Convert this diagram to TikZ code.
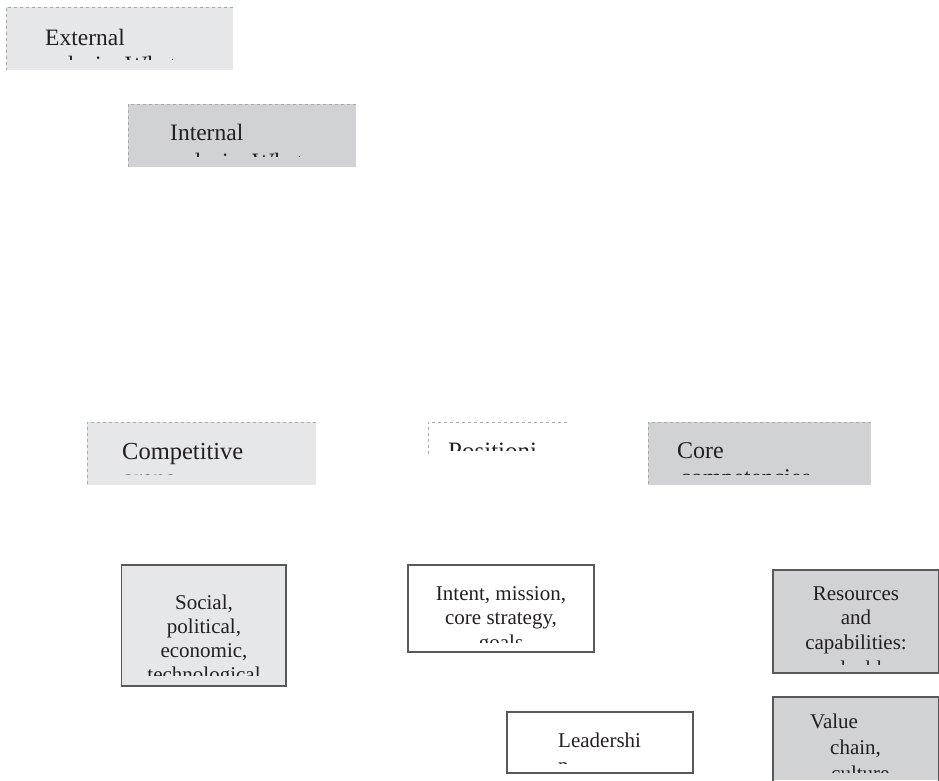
\documentclass[tikz,border=0pt]{standalone}
\usepackage{fontspec}
\setmainfont{Liberation Serif}
\definecolor{lightfill}{HTML}{E6E7E8}
\definecolor{darkfill}{HTML}{D1D2D4}
\definecolor{edgecol}{HTML}{58595B}
\definecolor{dashcol}{HTML}{A7A9AC}
\definecolor{inkcol}{HTML}{231F20}
\tikzset{
  lightbg/.style={fill=lightfill},
  darkbg/.style={fill=darkfill},
  dashedge/.style={draw=dashcol, line width=0.9pt, dash pattern=on 3pt off 3pt},
  solidedge/.style={draw=edgecol, line width=1.1pt},
  headtext/.style={inner sep=0pt, anchor=base west, text=inkcol, font=\fontsize{23.5}{24}\selectfont},
  bodytext/.style={inner sep=0pt, anchor=base, text=inkcol, font=\fontsize{21}{24}\selectfont},
  bodytextl/.style={inner sep=0pt, anchor=base west, text=inkcol, font=\fontsize{21}{24}\selectfont},
}
\begin{document}
\begin{tikzpicture}[x=1pt,y=-1pt]
\useasboundingbox (0,0) rectangle (939,780);

% External
\fill[lightbg] (6,7) rectangle (233,70);
\begin{scope}
\clip (6,7) rectangle (233,59);
\node[headtext] (ext1) at (45,45) {External};
\node[headtext] (ext2) at (35,72.5) {analysis: What};
\end{scope}
\draw[dashedge] (233,7) -- (6,7) -- (6,70);

% Internal
\fill[darkbg] (128,104) rectangle (356,167);
\begin{scope}
\clip (128,104) rectangle (356,156);
\node[headtext] (int1) at (170,140) {Internal};
\node[headtext] (int2) at (162,169) {analysis: What};
\end{scope}
\draw[dashedge] (356,104) -- (128,104) -- (128,167);

% Competitive arena
\fill[lightbg] (87,422) rectangle (316,485);
\begin{scope}
\clip (87,422) rectangle (316,474);
\node[headtext, font=\fontsize{24.5}{24}\selectfont] (comp1) at (122,459.5) {Competitive};
\node[headtext, font=\fontsize{24.5}{24}\selectfont] (comp2) at (123,486.5) {arena};
\end{scope}
\draw[dashedge] (316,422) -- (87,422) -- (87,485);

% Positioning
\begin{scope}
\clip (428,422) rectangle (567,450);
\node[headtext, font=\fontsize{25}{24}\selectfont] (pos1) at (448,459) {Positioni};
\node[headtext, font=\fontsize{25}{24}\selectfont] (pos2) at (448,483) {ng};
\end{scope}
\draw[dashedge] (567,422) -- (428,422) -- (428,457);

% Core competencies
\fill[darkbg] (648,422) rectangle (871,485);
\begin{scope}
\clip (648,422) rectangle (871,474);
\node[headtext, font=\fontsize{24}{24}\selectfont] (core1) at (677,458.5) {Core};
\node[headtext, font=\fontsize{24}{24}\selectfont] (core2) at (680,485.5) {competencies};
\end{scope}
\draw[dashedge] (871,422) -- (648,422) -- (648,485);

% Social, political ...
\fill[lightbg] (121.5,565) rectangle (286,686);
\begin{scope}
\clip (121.5,565) rectangle (286,675);
\node[bodytext] (soc1) at (204,609) {Social,};
\node[bodytext] (soc2) at (204,633) {political,};
\node[bodytext] (soc3) at (204,657) {economic,};
\node[bodytext] (soc4) at (204,681) {technological};
\end{scope}
\draw[solidedge] (121.5,565) rectangle (286,686);

% Intent, mission ...
\begin{scope}
\clip (408,565) rectangle (594,642);
\node[bodytext] (int3) at (501,600) {Intent, mission,};
\node[bodytext] (int4) at (501,624) {core strategy,};
\node[bodytext] (int5) at (501,649) {goals};
\end{scope}
\draw[solidedge] (408,565) rectangle (594,652);

% Resources and capabilities
\fill[darkbg] (773,570) rectangle (939,673);
\begin{scope}
\clip (773,570) rectangle (939,664);
\node[bodytext] (res1) at (856,600) {Resources};
\node[bodytext] (res2) at (856,624.5) {and};
\node[bodytext] (res3) at (856,649) {capabilities:};
\node[bodytext] (res4) at (856,675) {valuable};
\end{scope}
\draw[solidedge] (773,570) rectangle (938.5,673);

% Leadership
\begin{scope}
\clip (507,712) rectangle (693,763);
\node[bodytextl] (lead1) at (558,747) {Leadershi};
\node[bodytextl] (lead2) at (558,772.5) {p};
\end{scope}
\draw[solidedge] (507,712) rectangle (693,773);

% Value chain, culture
\fill[darkbg] (773,697) rectangle (939,780);
\begin{scope}
\clip (773,697) rectangle (939,772);
\node[bodytextl] (val1) at (810,728) {Value};
\node[bodytextl] (val2) at (830,754) {chain,};
\node[bodytextl] (val3) at (831,780) {culture};
\end{scope}
\draw[solidedge] (773,790) -- (773,697) -- (938.5,697) -- (938.5,790);
\end{tikzpicture}
\end{document}
